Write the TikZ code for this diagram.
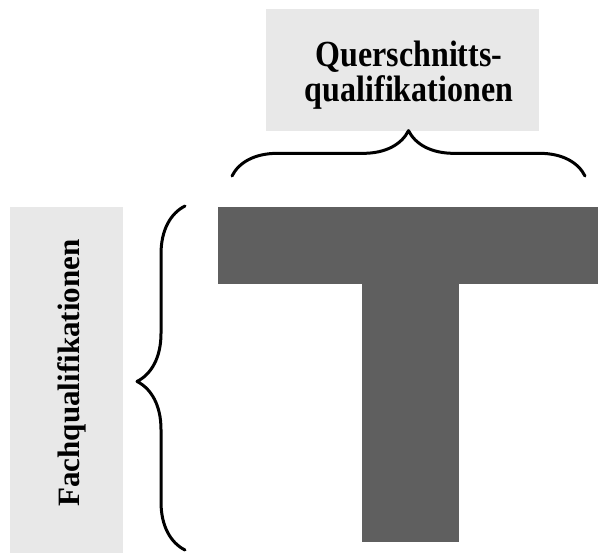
\documentclass[tikz,border=0pt]{standalone}
\usepackage{fontspec}
\setmainfont{Liberation Serif}
\usetikzlibrary{positioning, decorations.pathreplacing}
\definecolor{cpanel}{RGB}{232, 232, 232}
\definecolor{cbar}{RGB}{95, 95, 95}
\tikzset{
  panel/.style={fill=cpanel, draw=none, inner sep=0pt, outer sep=0pt},
  tpart/.style={fill=cbar, draw=none, inner sep=0pt, outer sep=0pt},
  lab/.style={font=\fontsize{23.3}{24.8}\selectfont\bfseries, align=center, inner sep=0pt},
  brc/.style={decorate, line width=2.25pt, line join=round, line cap=round},
}

\begin{document}
\begin{tikzpicture}[x=0.75pt, y=-0.75pt]
\useasboundingbox (0,0) rectangle (598,553);

% ---------- grey label panels ----------
\node[panel, minimum width=204.75pt, minimum height=91.5pt] (qpanel) at (402.5,70) {};
\node[panel, minimum width=84.75pt, minimum height=259.5pt] (fpanel) at (66.5,380) {};

\node[lab, font=\fontsize{24}{22.5}\selectfont\bfseries, yscale=1.15] (qtext) at (409,75) {Querschnitts-\\qualifikationen};
\node[lab, rotate=90] (ftext) at (72,373) {Fachqualifikationen};

% ---------- the T ----------
\node[tpart, minimum width=285pt, minimum height=57.75pt] (bar) at (408,245.5) {};
\node[tpart, minimum width=72.75pt, minimum height=193.5pt, below=0pt of bar, xshift=1.9pt] (stem) {};

% ---------- braces ----------
\coordinate (qleft) at (232,176);
\coordinate (qright) at (585,176);
\coordinate (ftop) at (185,206);
\coordinate (fbot) at (185,550);

\draw[brc, decoration={brace, amplitude=34pt, aspect=0.5}] (qleft) -- (qright);
\draw[brc, decoration={brace, amplitude=36pt, aspect=0.49}] (fbot) -- (ftop);

\end{tikzpicture}
\end{document}
